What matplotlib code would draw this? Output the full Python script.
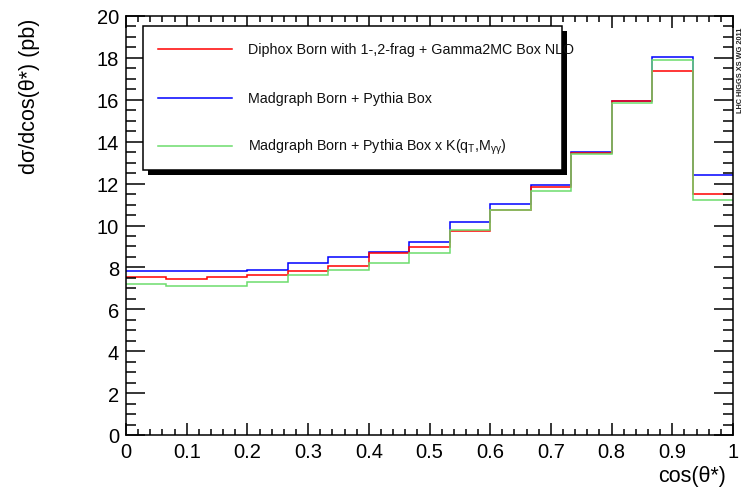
#!/usr/bin/env python3
# -*- coding: utf-8 -*-
"""Diphoton cos(theta*) distribution: Diphox vs Madgraph predictions."""

import matplotlib as mpl
mpl.use("Agg")
import matplotlib.pyplot as plt
import numpy as np
from matplotlib.lines import Line2D
from matplotlib.patches import Rectangle
from matplotlib.ticker import MultipleLocator


# =======================
# Global style
# =======================
mpl.rcParams["font.family"] = ["Liberation Sans", "DejaVu Sans"]
mpl.rcParams["axes.unicode_minus"] = False


# =======================
# Data
# =======================
N_BINS = 15
X_RANGE = (0.0, 1.0)

diphox_born = [7.52, 7.46, 7.52, 7.62, 7.81, 8.09, 8.69, 8.98, 9.72, 10.74,
               11.85, 13.44, 15.93, 17.36, 11.52]
madgraph_born = [7.81, 7.81, 7.81, 7.88, 8.19, 8.50, 8.75, 9.23, 10.17, 11.05,
                 11.93, 13.52, 15.93, 18.05, 12.42]
madgraph_k = [7.20, 7.13, 7.13, 7.30, 7.62, 7.88, 8.19, 8.67, 9.79, 10.74,
              11.63, 13.40, 15.87, 17.90, 11.23]

labels = [
    "Diphox Born with 1-,2-frag + Gamma2MC Box NLO",
    "Madgraph Born + Pythia Box",
    r"Madgraph Born + Pythia Box x K(q$_{\mathregular{T}}$,M$_{\mathregular{\gamma\gamma}}$)",
]

RED = "#ff0000"
BLUE = "#0000ff"
GREEN = "#6cdc6c"

W, H = 748, 489
AX_L, AX_R, AX_T, AX_B = 126, 733, 17, 436


def px_x(px):
    return (px - AX_L) / (AX_R - AX_L)


def px_y(py):
    return (AX_B - py) / (AX_B - AX_T)


def main():
    fig = plt.figure(figsize=(W / 100, H / 100), dpi=100)
    ax = fig.add_axes([AX_L / W, 1 - AX_B / H, (AX_R - AX_L) / W, (AX_B - AX_T) / H])

    edges = np.linspace(X_RANGE[0], X_RANGE[1], N_BINS + 1)
    lw = 1.1
    ax.stairs(madgraph_born, edges, baseline=None, color=BLUE, lw=lw)
    ax.stairs(diphox_born, edges, baseline=None, color=RED, lw=lw)
    ax.stairs(madgraph_k, edges, baseline=None, color=GREEN, lw=lw)

    ax.set_xlim(*X_RANGE)
    ax.set_ylim(0, 20)

    ax.xaxis.set_major_locator(MultipleLocator(0.1))
    ax.xaxis.set_minor_locator(MultipleLocator(0.02))
    ax.yaxis.set_major_locator(MultipleLocator(2))
    ax.yaxis.set_minor_locator(MultipleLocator(0.5))
    ax.xaxis.set_major_formatter(mpl.ticker.FuncFormatter(lambda v, p: f"{v:g}"))

    ax.tick_params(which="both", direction="in", top=True, right=True,
                   width=1.1, labelsize=14.5, colors="black")
    ax.tick_params(axis="x", which="major", length=8.6, pad=5)
    ax.tick_params(axis="x", which="minor", length=4.3)
    ax.tick_params(axis="y", which="major", length=13.7, pad=5)
    ax.tick_params(axis="y", which="minor", length=7.2)
    for s in ax.spines.values():
        s.set_linewidth(1.1)

    fig.text(30 / W, 1 - 19 / H, "dσ/dcos(θ*) (pb)", rotation=90,
             ha="center", va="top", fontsize=15.5)
    fig.text(726 / W, 1 - 477 / H, "cos(θ*)", ha="right", va="center", fontsize=15.5)
    fig.text(741 / W, 1 - 70 / H, "LHC HIGGS XS WG 2011", rotation=90,
             ha="center", va="center", fontsize=5.3, color="#222222",
             fontweight="bold")

    # legend box with ROOT-like drop shadow
    bx0, bx1 = px_x(143), px_x(562)
    by0, by1 = px_y(171), px_y(27)
    sx, sy = 5 / (AX_R - AX_L), 5 / (AX_B - AX_T)
    ax.add_patch(Rectangle((bx0 + sx, by0 - sy), bx1 - bx0, by1 - by0,
                           transform=ax.transAxes, facecolor="black",
                           edgecolor="none", zorder=5))
    ax.add_patch(Rectangle((bx0, by0), bx1 - bx0, by1 - by0,
                           transform=ax.transAxes, facecolor="white",
                           edgecolor="black", lw=1.1, zorder=6))
    rows = [px_y(50), px_y(99), px_y(147)]
    for yy, c, lab in zip(rows, [RED, BLUE, GREEN], labels):
        ax.add_line(Line2D([px_x(158), px_x(232)], [yy, yy], color=c, lw=lw,
                           transform=ax.transAxes, zorder=7))
        ax.text(px_x(248), yy, lab, transform=ax.transAxes, fontsize=10.3,
                ha="left", va="center", zorder=8, color="#111111")

    fig.savefig("out.png", dpi=100)


if __name__ == "__main__":
    main()
